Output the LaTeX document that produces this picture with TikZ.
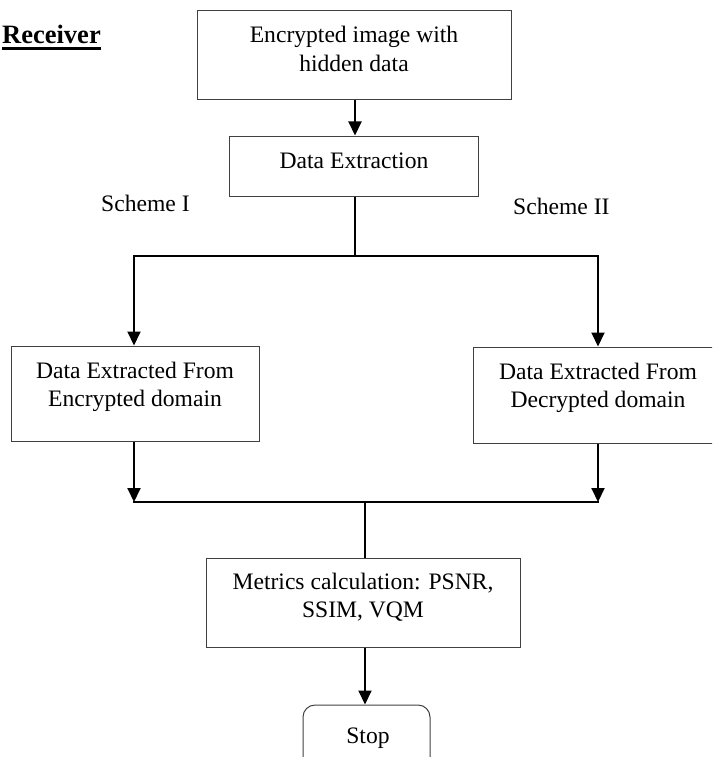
\documentclass[tikz,border=0pt]{standalone}
\usepackage{fontspec}
\setmainfont{Liberation Serif}
\usetikzlibrary{arrows.meta}
% thick underline for the heading
\newcommand{\thickul}[1]{\setbox0\hbox{#1}\rlap{\rule[-6pt]{\wd0}{2.6pt}}\box0}
\begin{document}
\begin{tikzpicture}[x=1pt,y=-1pt,
  box/.style={draw=black!75, line width=1pt, rectangle, inner sep=0pt},
  txt/.style={anchor=base, inner sep=0pt, font=\fontsize{23.6}{28}\selectfont},
  flow/.style={line width=2pt, -{Triangle[length=14pt,width=13pt]}},
  wire/.style={line width=2pt, line cap=rect},
  thinwire/.style={line width=1.3pt}]
\useasboundingbox (0,0) rectangle (712,757);
\clip (0,0) rectangle (712,757);

% heading and scheme labels
\node[anchor=base west, inner sep=0pt, font=\fontsize{26.5}{30}\selectfont\bfseries] (recv) at (2,44) {\thickul{Receiver}};
\node[txt, anchor=base west] (sch1) at (101,211) {Scheme I};
\node[txt, anchor=base west] (sch2) at (513,214.5) {Scheme II};

% process boxes
\node[box, minimum width=314pt, minimum height=89pt] (top) at (354,55.5) {};
\node[txt] (topA) at (354,43) {Encrypted image with};
\node[txt] (topB) at (354,72) {hidden data};

\node[box, minimum width=249pt, minimum height=60pt] (de) at (354,166) {};
\node[txt] (deA) at (354,168) {Data Extraction};

\node[box, minimum width=248pt, minimum height=95pt] (left) at (135,393.5) {};
\node[txt] (leftA) at (135,378) {Data Extracted From};
\node[txt] (leftB) at (135,406) {Encrypted domain};

\node[box, minimum width=250pt, minimum height=96pt] (right) at (598,395) {};
\node[txt] (rightA) at (598,379) {Data Extracted From};
\node[txt] (rightB) at (598,407) {Decrypted domain};

\node[box, minimum width=314pt, minimum height=89pt] (met) at (363,603) {};
\node[txt] (metA) at (363,589.5) {Metrics calculation: PSNR,};
\node[txt] (metB) at (363,617) {SSIM, VQM};

\node[box, rounded corners=12pt, minimum width=127pt, minimum height=75pt] (stop) at (366.5,742.5) {};
\node[txt] (stopA) at (368,743) {Stop};

% branching points
\coordinate (split) at (355,256);
\coordinate (bl) at (134,256);
\coordinate (br) at (598,256);
\coordinate (ml) at (134,502);
\coordinate (mr) at (598,502);
\coordinate (join) at (365,502);

% connectors
\draw[flow] (top.south -| split) -- (de.north -| split);
\draw[thinwire] (de.south -| split) -- (split);
\draw[wire] (bl) -- (br);
\draw[flow] (bl) -- (bl |- left.north);
\draw[flow] (br) -- (br |- right.north);
\draw[flow] (left.south -| ml) -- (ml);
\draw[flow] (right.south -| mr) -- (mr);
\draw[wire] (ml) -- (mr);
\draw[thinwire] (join) -- (join |- met.north);
\draw[flow] (met.south -| join) -- (join |- stop.north);
\end{tikzpicture}
\end{document}
